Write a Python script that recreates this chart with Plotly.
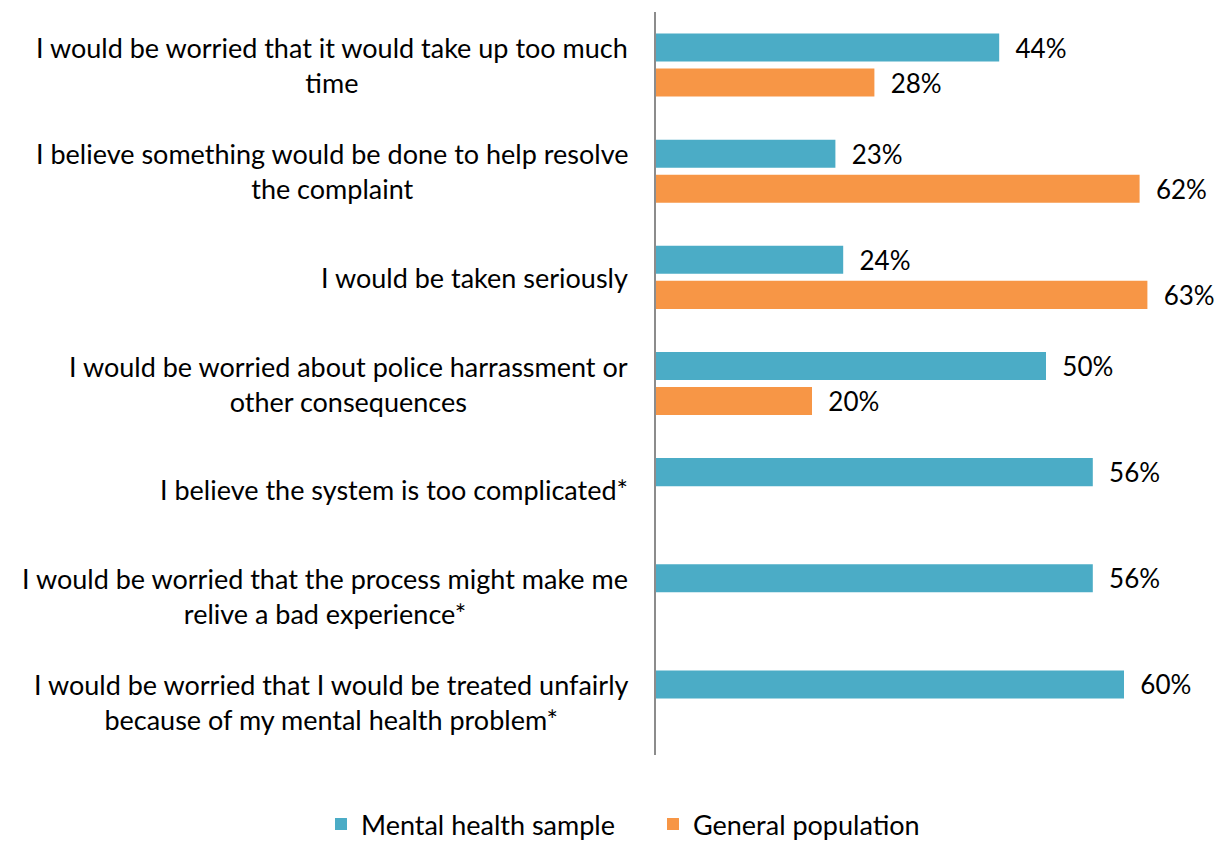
import plotly.graph_objects as go

# Survey statements (multi-line labels use <br>)
statements = [
    "I would be worried that it would take up too much<br>time",
    "I believe something would be done to help resolve<br>the complaint",
    "I would be taken seriously",
    "I would be worried about police harrassment or<br>other consequences",
    "I believe the system is too complicated*",
    "I would be worried that the process might make me<br>relive a bad experience*",
    "I would be worried that I would be treated unfairly<br>because of my mental health problem*",
]
mental_health = [44, 23, 24, 50, 56, 56, 60]
general_population = [28, 62, 63, 20, None, None, None]

series_names = ["Mental health sample", "General population"]
TEAL = "#4BACC6"
ORANGE = "#F79646"
FONT = "Lato"


def pct_labels(values):
    return ["\u00a0\u00a0" + f"{v}%" if v is not None else "" for v in values]


fig = go.Figure()
for name, vals, col in [
    (series_names[0], mental_health, TEAL),
    (series_names[1], general_population, ORANGE),
]:
    fig.add_trace(go.Bar(
        y=statements, x=vals, name=name, orientation="h",
        marker=dict(color=col, line=dict(width=0)),
        text=pct_labels(vals), textposition="outside",
        textfont=dict(family=FONT, size=26, color="#000000"),
        constraintext="none", cliponaxis=False,
    ))

# Category labels, centred line by line, right-aligned against the axis
for s in statements:
    fig.add_annotation(
        x=0, y=s, xref="x", yref="y", text=s, showarrow=False,
        xanchor="right", yanchor="middle", align="center", xshift=-26,
        font=dict(family=FONT, size=27, color="#000000"),
    )

fig.update_layout(
    width=1227, height=841,
    margin=dict(l=656, r=25, t=12, b=86, autoexpand=False),
    paper_bgcolor="white", plot_bgcolor="white",
    barmode="group", bargap=0.34, bargroupgap=0.2,
    showlegend=True,
    legend=dict(
        orientation="h", x=-0.6136, xanchor="left", y=-0.0935, yanchor="middle",
        font=dict(family=FONT, size=27, color="#000000"),
        entrywidth=287, entrywidthmode="pixels", traceorder="normal",
    ),
    font=dict(family=FONT, size=26, color="#000000"),
)
fig.update_xaxes(range=[0, 70], visible=False, fixedrange=True)
fig.update_yaxes(
    autorange="reversed", showticklabels=False, showgrid=False, ticks="",
    showline=True, linecolor="#8c8c8c", linewidth=2, zeroline=False,
)

fig.write_html("out.html")
